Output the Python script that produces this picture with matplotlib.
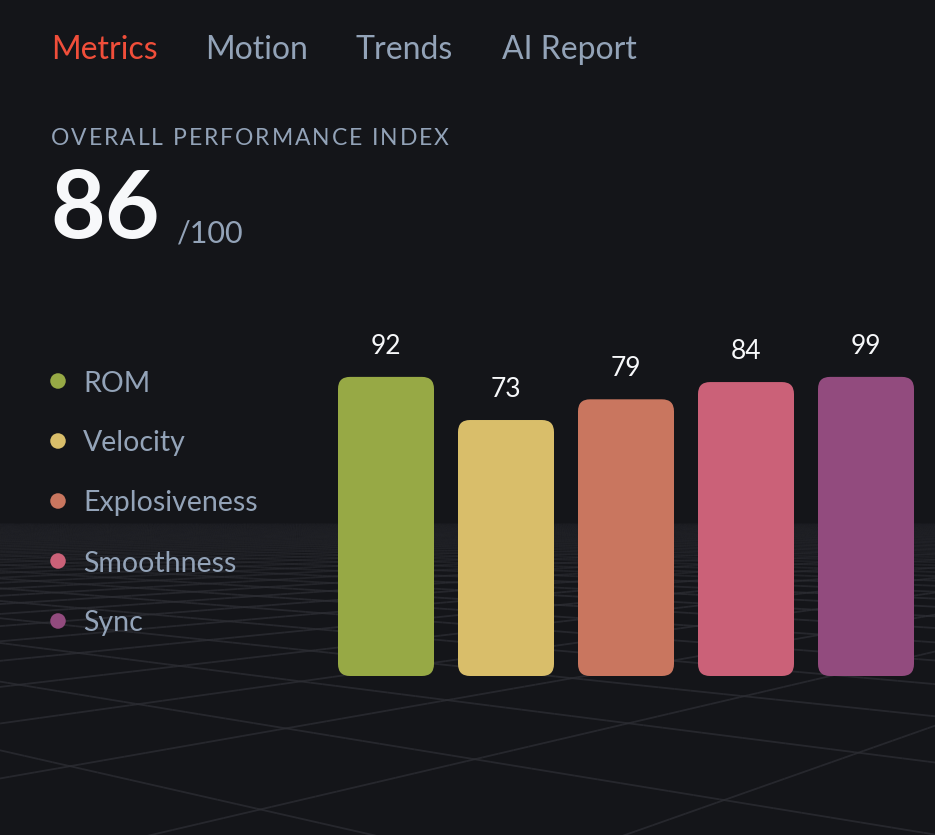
import numpy as np
import matplotlib
matplotlib.use("Agg")
import matplotlib.pyplot as plt
from matplotlib.patches import FancyBboxPatch
from matplotlib.collections import LineCollection

# ---------------- data ----------------
tabs = ["Metrics", "Motion", "Trends", "AI Report"]
active_tab = "Metrics"
index_title = "OVERALL PERFORMANCE INDEX"
overall_score = 86
overall_max = 100
categories = ["ROM", "Velocity", "Explosiveness", "Smoothness", "Sync"]
values = [92, 73, 79, 84, 99]
colors = ["#97a945", "#d9be6a", "#c9765f", "#cb6178", "#924b7e"]
bar_cap = 85.5          # bars visually saturate near this value

# ---------------- style ----------------
BG = "#141519"
MUTED = "#93a3b8"
ACCENT = "#f04e3a"
WHITE = "#f7f8fa"
FONT = ["Lato", "DejaVu Sans"]
plt.rcParams["font.family"] = FONT

W, H = 935, 835
fig = plt.figure(figsize=(W / 100, H / 100), dpi=100, facecolor=BG)

def fx(x):
    return x / W

def fy(y):
    return 1 - y / H

# ---------------- background perspective grid ----------------
bg = fig.add_axes([0, 0, 1, 1])
bg.set_xlim(0, W)
bg.set_ylim(H, 0)
bg.axis("off")
bg.set_facecolor(BG)

horizon = 505.0
f = 1300.0
cam_h = 1.0
cx = 470.0
spacing = 1.1
segs = []
alphas = []
for theta, off in ((np.deg2rad(50), 0.3), (np.deg2rad(-40), 0.0)):
    d = np.array([np.cos(theta), np.sin(theta)])
    n = np.array([-np.sin(theta), np.cos(theta)])
    for k in np.arange(-80, 80):
        o = n * ((k + off) * spacing) + np.array([0.0, 8.0])
        t = np.linspace(-70, 70, 1400)
        P = o[None, :] + t[:, None] * d[None, :]
        X, Z = P[:, 0], P[:, 1]
        m = (Z > 1.5) & (Z < 70)
        if m.sum() < 2:
            continue
        sx = cx + f * X[m] / Z[m]
        sy = horizon + f * cam_h / Z[m]
        pts = np.column_stack([sx, sy])
        for i in range(len(pts) - 1):
            if -50 < pts[i, 0] < W + 50 and pts[i, 1] < H + 50:
                segs.append(pts[i:i + 2])
                a = np.clip((pts[i, 1] - 515) / 80.0, 0, 1)
                alphas.append(a)
alphas = np.array(alphas)
lc_colors = np.zeros((len(alphas), 4))
lc_colors[:, :3] = matplotlib.colors.to_rgb("#2d2e34")
lc_colors[:, 3] = alphas * 0.75
bg.add_collection(LineCollection(segs, colors=lc_colors, linewidths=1.3))

# ---------------- header texts ----------------
tab_x = [51, 205, 355, 502]
for name, x in zip(tabs, tab_x):
    fig.text(fx(x), fy(59), name, fontsize=23, color=ACCENT if name == active_tab else MUTED,
             ha="left", va="baseline")

# letter-spaced title
renderer = fig.canvas.get_renderer()
title_size = 16.5
target_w = 398
probe = fig.text(0, 0, index_title, fontsize=title_size)
nat_w = probe.get_window_extent(renderer).width
probe.remove()
track = (target_w - nat_w) / (len(index_title) - 1)
x0 = 51
for i, ch in enumerate(index_title):
    if ch == " ":
        continue
    pre = fig.text(0, 0, index_title[:i + 1], fontsize=title_size)
    wpre = pre.get_window_extent(renderer).width
    pre.remove()
    fig.text(fx(x0 + wpre + i * track), fy(145), ch, fontsize=title_size, color=MUTED,
             ha="right", va="baseline")

fig.text(fx(50), fy(238), str(overall_score), fontsize=68, fontweight="bold",
         color=WHITE, ha="left", va="baseline")
fig.text(fx(177), fy(243), f"/{overall_max}", fontsize=22, color=MUTED,
         ha="left", va="baseline")

# ---------------- legend ----------------
leg = fig.add_axes([0, fy(651), fx(320), (651 - 351) / H])
leg.set_xlim(0, 320)
leg.set_ylim(len(categories) - 0.5, -0.5)
leg.axis("off")
ypos = np.arange(len(categories))
leg.scatter(np.full(len(categories), 58), ypos, s=125, c=colors, linewidths=0)
for yi, cat in zip(ypos, categories):
    leg.annotate(cat, (83, yi), xytext=(0, -10.5), textcoords="offset pixels",
                 fontsize=20.5, color=MUTED, ha="left", va="baseline")

# ---------------- bars ----------------
px_per_unit = 3.45
base = -1.2
ax_bottom_px, ax_top_px = 676, 300
ax = fig.add_axes([fx(326), fy(ax_bottom_px), 600 / W, (ax_bottom_px - ax_top_px) / H])
ax.set_xlim(-0.5, len(categories) - 0.5)
ax.set_ylim(base, base + (ax_bottom_px - ax_top_px) / px_per_unit)
ax.axis("off")
heights = np.minimum(np.array(values, dtype=float), bar_cap) - base
bars = ax.bar(np.arange(len(categories)), heights, bottom=base, width=0.8, color="none")
rx = 0.1                                   # corner radius in x-data units (12 px)
aspect = (1 / px_per_unit) / (1 / 120.0)   # y-units per px / x-units per px
for b, c, v in zip(bars, colors, values):
    x, y, w, h = b.get_x(), b.get_y(), b.get_width(), b.get_height()
    p = FancyBboxPatch((x, y), w, h, boxstyle=f"round,pad=0,rounding_size={rx}",
                       mutation_aspect=aspect, facecolor=c, edgecolor="none")
    ax.add_patch(p)
    b.remove()
    ax.annotate(str(v), (x + w / 2, y + h), xytext=(0, 23), textcoords="offset pixels",
                fontsize=19, color=WHITE, ha="center", va="baseline")

fig.savefig("out.png", dpi=100, facecolor=BG)
